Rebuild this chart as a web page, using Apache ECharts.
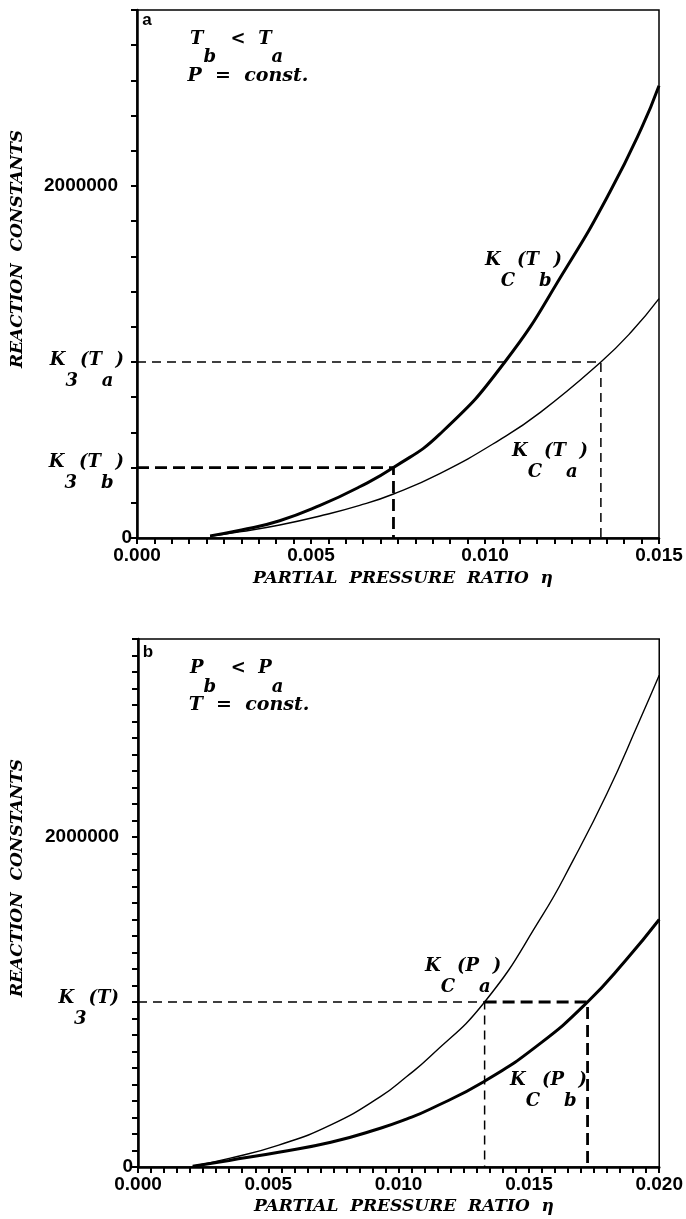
<!DOCTYPE html>
<html>
<head>
<meta charset="utf-8">
<script src="https://cdn.jsdelivr.net/npm/echarts@6/dist/echarts.min.js"></script>
<style>
  html, body { margin: 0; padding: 0; background: #fff; }
  #chart { width: 686px; height: 1219px; }
</style>
</head>
<body>
<div id="chart"></div>
<script>
// panel a : T_b < T_a, P = const.
const etaA_Tb = [0.0021, 0.003, 0.0041, 0.00526, 0.0064, 0.00737, 0.0087, 0.01057, 0.01235, 0.0136, 0.0145, 0.015];
const kcTb    = [12000, 45000, 98000, 185000, 291000, 400000, 590000, 1000000, 1540000, 1970000, 2330000, 2570000];
const etaA_Ta = [0.0021, 0.003, 0.0041, 0.00526, 0.0064, 0.00737, 0.0087, 0.0104, 0.0116, 0.01333, 0.0142, 0.015];
const kcTa    = [10000, 36000, 74000, 125000, 185000, 250000, 366000, 555000, 715000, 1000000, 1170000, 1360000];
const k3A     = [1000000, 400000];   // K3(Ta), K3(Tb)
const crossA  = [0.01333, 0.00737];  // where K3 meets Kc(Ta), Kc(Tb)

// panel b : P_b < P_a, T = const.
const etaB_Pa = [0.0021, 0.0035, 0.0054, 0.0074, 0.0093, 0.0103, 0.0112, 0.0133, 0.0155, 0.0167, 0.018, 0.0192, 0.02];
const kcPa    = [5000, 52000, 133000, 255000, 426000, 547000, 668000, 1000000, 1520000, 1860000, 2265000, 2689000, 2980000];
const etaB_Pb = [0.0021, 0.0035, 0.0054, 0.0074, 0.0093, 0.0103, 0.0112, 0.0133, 0.0154, 0.01725, 0.0187, 0.02];
const kcPb    = [4000, 40000, 90000, 150000, 235000, 290000, 350000, 520000, 745000, 1000000, 1250000, 1500000];
const k3B     = 1000000;
const crossB  = [0.0133, 0.01725];   // K3 meets Kc(Pa), Kc(Pb)

const yLabelsShown = [0, 2000000];

const serif = '"DejaVu Serif", serif';
const sans = '"Liberation Sans", Arial, sans-serif';

function pairs(xs, ys) {
  return xs.map((x, i) => [x, ys[i]]);
}

function xAxisOf(idx, max) {
  return {
    type: 'value', gridIndex: idx, min: 0, max: max, interval: 0.0005,
    axisLine: { lineStyle: { color: '#000', width: 2.5 } },
    axisTick: { length: 6, lineStyle: { color: '#000', width: 2 } },
    splitLine: { show: false },
    axisLabel: {
      margin: 8, color: '#000', fontFamily: sans, fontWeight: 'bold', fontSize: 19,
      formatter: function (v) {
        let k = v / 0.005;
        return Math.abs(k - Math.round(k)) < 1e-6 ? v.toFixed(3) : '';
      }
    }
  };
}

function yAxisOf(idx, max, step) {
  return {
    type: 'value', gridIndex: idx, min: 0, max: max, interval: step,
    axisLine: { lineStyle: { color: '#000', width: 2.5 } },
    axisTick: { length: 6, lineStyle: { color: '#000', width: 2 } },
    splitLine: { show: false },
    axisLabel: {
      margin: 5, color: '#000', fontFamily: sans, fontWeight: 'bold', fontSize: 19,
      formatter: function (v) {
        if (v === yLabelsShown[0]) return '{z|' + v + '}';
        if (v === yLabelsShown[1]) return '{n|' + v + '}';
        return '';
      },
      rich: {
        z: { fontFamily: sans, fontWeight: 'bold', fontSize: 19, color: '#000' },
        n: { fontFamily: sans, fontWeight: 'bold', fontSize: 19, color: '#000', padding: [0, 14, 0, 0] }
      }
    }
  };
}

function curve(idx, data, width) {
  return {
    type: 'line', xAxisIndex: idx, yAxisIndex: idx, data: data,
    showSymbol: false, smooth: 0.5, silent: true,
    lineStyle: { color: '#000', width: width }
  };
}

function guide(idx, data, width, dash) {
  return {
    type: 'line', xAxisIndex: idx, yAxisIndex: idx, data: data,
    showSymbol: false, silent: true,
    lineStyle: { color: '#000', width: width, type: dash }
  };
}

// math label: parts = [[text, isSub], ...]
function mathText(x, yMain, parts, align, off) {
  off = off || 21;
  const base = { fontFamily: serif, fontStyle: 'italic', fontWeight: 'bold', fontSize: 18, fill: '#000', color: '#000' };
  const str = parts.map(p => (p[1] ? '{s|' : '{m|') + p[0] + '}').join('');
  return {
    type: 'text', x: x, y: yMain + off / 2, silent: true,
    style: {
      text: str, textAlign: align || 'left', textVerticalAlign: 'middle',
      rich: {
        m: Object.assign({}, base, { padding: [0, 0, off, 0] }),
        s: Object.assign({}, base, { padding: [off, 2, 0, 0] })
      }
    }
  };
}

function plain(x, y, text, font, rot) {
  return {
    type: 'text', x: x, y: y, rotation: rot || 0, silent: true,
    style: { text: text, font: font, fill: '#000', textAlign: 'center', textVerticalAlign: 'middle' }
  };
}

const titleFont = 'italic bold 17px ' + serif;

const chart = echarts.init(document.getElementById('chart'));
chart.setOption({
  animation: false,
  backgroundColor: '#fff',
  grid: [
    { left: 137, top: 10, width: 522, height: 528, show: true, borderColor: '#000', borderWidth: 1.5 },
    { left: 138, top: 639, width: 522, height: 528, show: true, borderColor: '#000', borderWidth: 1.5 }
  ],
  xAxis: [xAxisOf(0, 0.015), xAxisOf(1, 0.02)],
  yAxis: [yAxisOf(0, 3000000, 200000), yAxisOf(1, 3200000, 100000)],
  series: [
    curve(0, pairs(etaA_Tb, kcTb), 3),
    curve(0, pairs(etaA_Ta, kcTa), 1.4),
    guide(0, [[0, k3A[0]], [crossA[0], k3A[0]], [crossA[0], 0]], 1.5, [9, 6]),
    guide(0, [[0, k3A[1]], [crossA[1], k3A[1]], [crossA[1], 0]], 2.8, [12, 6]),
    curve(1, pairs(etaB_Pa, kcPa), 1.4),
    curve(1, pairs(etaB_Pb, kcPb), 3),
    guide(1, [[0, k3B], [crossB[0], k3B], [crossB[0], 0]], 1.5, [9, 6]),
    guide(1, [[crossB[0], k3B], [crossB[1], k3B], [crossB[1], 0]], 2.8, [12, 6])
  ],
  graphic: [
    // panel a
    plain(147, 20, 'a', 'bold 17px ' + sans),
    mathText(190, 39, [['T', 0], ['b', 1], ['  <  T', 0], ['a', 1]], 'left', 18),
    plain(248, 76, 'P  =  const.', 'italic bold 19px ' + serif),
    mathText(124, 360, [['K', 0], ['3', 1], ['(T', 0], ['a', 1], [')', 0]], 'right'),
    mathText(124, 462, [['K', 0], ['3', 1], ['(T', 0], ['b', 1], [')', 0]], 'right'),
    mathText(485, 260, [['K', 0], ['C', 1], ['(T', 0], ['b', 1], [')', 0]], 'left'),
    mathText(512, 451, [['K', 0], ['C', 1], ['(T', 0], ['a', 1], [')', 0]], 'left'),
    plain(18, 249, 'REACTION  CONSTANTS', titleFont, Math.PI / 2),
    plain(403, 579, 'PARTIAL  PRESSURE  RATIO  η', titleFont),
    // panel b
    plain(148, 652, 'b', 'bold 17px ' + sans),
    mathText(190, 668, [['P', 0], ['b', 1], ['  <  P', 0], ['a', 1]], 'left', 19),
    plain(249, 705, 'T  =  const.', 'italic bold 19px ' + serif),
    mathText(119, 998, [['K', 0], ['3', 1], ['(T)', 0]], 'right'),
    mathText(425, 966, [['K', 0], ['C', 1], ['(P', 0], ['a', 1], [')', 0]], 'left'),
    mathText(510, 1080, [['K', 0], ['C', 1], ['(P', 0], ['b', 1], [')', 0]], 'left'),
    plain(18, 878, 'REACTION  CONSTANTS', titleFont, Math.PI / 2),
    plain(404, 1207, 'PARTIAL  PRESSURE  RATIO  η', titleFont)
  ]
});
</script>
</body>
</html>
